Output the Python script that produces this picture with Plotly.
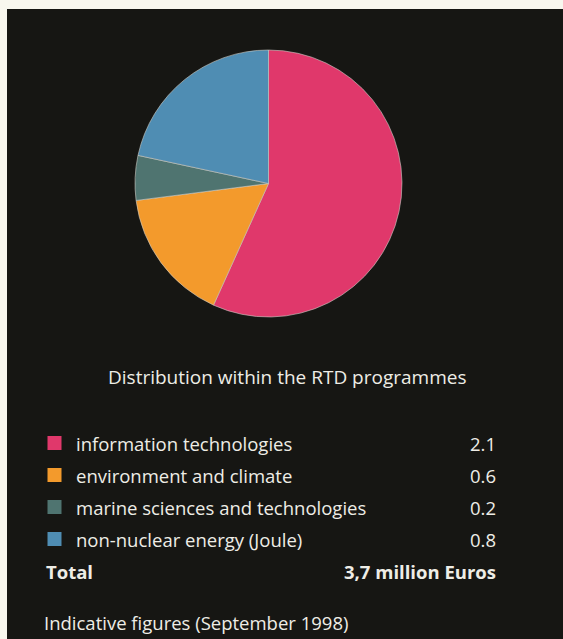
import plotly.graph_objects as go

# ---- data ----
categories = ["information technologies", "environment and climate",
              "marine sciences and technologies", "non-nuclear energy (Joule)"]
values = [2.1, 0.6, 0.2, 0.8]
value_labels = ["2.1", "0.6", "0.2", "0.8"]
colors = ["#E0386B", "#F39A2C", "#4F7470", "#4F8DB3"]
title_text = "Distribution within the RTD programmes"
total_label = "Total"
total_value = "3,7 million Euros"
note_text = "Indicative figures (September 1998)"

W, H = 563, 639
BG = "#161613"
FG = "#EEEDE6"
FONT = "Open Sans"
FS = 18.5

fig = go.Figure()

# pie
cx, cy, r = 268.5, 183.5, 133.5
fig.add_trace(go.Pie(
    values=values, labels=categories, sort=False, direction="clockwise",
    rotation=0, textinfo="none", hoverinfo="label+value",
    marker=dict(colors=colors, line=dict(color="#CFCFC8", width=0.6)),
    domain=dict(x=[(cx - r) / W, (cx + r) / W], y=[1 - (cy + r) / H, 1 - (cy - r) / H]),
    showlegend=False,
))

# legend rows (pixel-coordinate hidden axes)
row_y = [443, 475, 507, 539]
fig.add_trace(go.Scatter(
    x=[54.5] * len(categories), y=[y for y in row_y], mode="markers",
    marker=dict(symbol="square", size=14, color=colors, line=dict(width=0)),
    showlegend=False, hoverinfo="skip", xaxis="x", yaxis="y",
))

annotations = []
annotations.append(dict(x=287, y=377, text=title_text, showarrow=False,
                        xanchor="center", yanchor="middle",
                        font=dict(family=FONT, size=19, color=FG)))
for cat, val, yy in zip(categories, value_labels, row_y):
    annotations.append(dict(x=74, y=yy, text=cat, showarrow=False,
                            xanchor="left", yanchor="middle",
                            font=dict(family=FONT, size=FS, color=FG)))
    annotations.append(dict(x=498, y=yy, text=val, showarrow=False,
                            xanchor="right", yanchor="middle",
                            font=dict(family=FONT, size=FS, color=FG)))
annotations.append(dict(x=44, y=571, text="<b>" + total_label + "</b>", showarrow=False,
                        xanchor="left", yanchor="middle",
                        font=dict(family=FONT, size=FS, color=FG)))
annotations.append(dict(x=498, y=571, text="<b>" + total_value + "</b>", showarrow=False,
                        xanchor="right", yanchor="middle",
                        font=dict(family=FONT, size=FS, color=FG)))
annotations.append(dict(x=42, y=622, text=note_text, showarrow=False,
                        xanchor="left", yanchor="middle",
                        font=dict(family=FONT, size=FS, color=FG)))
for a in annotations:
    a["xref"] = "x"
    a["yref"] = "y"

fig.update_layout(
    width=W, height=H, margin=dict(l=0, r=0, t=0, b=0),
    paper_bgcolor="#F8F7EE", plot_bgcolor="rgba(0,0,0,0)",
    xaxis=dict(range=[0, W], visible=False, fixedrange=True, domain=[0, 1]),
    yaxis=dict(range=[H, 0], visible=False, fixedrange=True, domain=[0, 1]),
    shapes=[dict(type="rect", xref="x", yref="y", x0=7, x1=W, y0=9, y1=H,
                 fillcolor=BG, line=dict(width=0), layer="below")],
    annotations=annotations,
)

fig.write_html("out.html")
